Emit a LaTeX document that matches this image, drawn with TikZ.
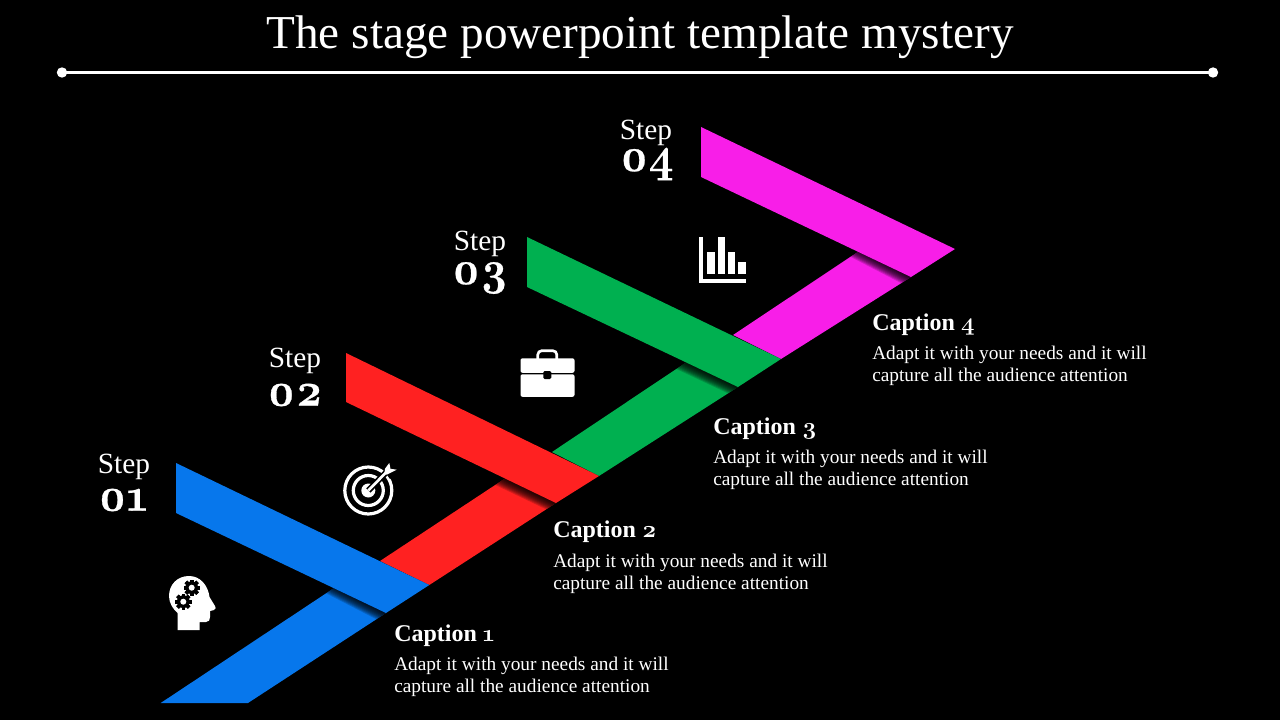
\documentclass[tikz,border=0pt]{standalone}
\usepackage{fontspec}
\setmainfont{Liberation Serif}
\newfontfamily\osf[Numbers=OldStyle]{Latin Modern Roman}
\newfontfamily\osfbig[Numbers=OldStyle,BoldFeatures={FakeBold=0.6}]{Latin Modern Roman}
\usetikzlibrary{calc}
\definecolor{cblue}{HTML}{0777EC}
\definecolor{cred}{HTML}{FF2121}
\definecolor{cgreen}{HTML}{00B050}
\definecolor{cmag}{HTML}{F81EE8}
\newcommand{\bignum}[1]{\scalebox{1}[1.08]{#1}}
\tikzset{
  titletext/.style={text=white,inner sep=0pt,anchor=base,font=\fontsize{35.4}{40}\selectfont},
  steptext/.style={text=white,inner sep=0pt,font=\fontsize{22}{24}\selectfont},
  numtext/.style={text=white,inner sep=0pt,font=\osfbig\bfseries\fontsize{33}{36}\selectfont},
  captext/.style={text=white,inner sep=0pt,anchor=base west,font=\bfseries\fontsize{18}{20}\selectfont},
  bodytext/.style={text=white,inner sep=0pt,anchor=base west,font=\fontsize{14.5}{16.5}\selectfont,align=left},
  icon/.style={fill=white,draw=none},
  hole/.style={fill=black,draw=none},
  rulebar/.style={draw=white,line width=2.4pt},
  ruledot/.style={circle,fill=white,minimum size=7.8pt,inner sep=0pt},
}
% fold: #1 colour, #2..#5 leg corners (top-left, top-right, bottom-right, bottom-left)
\newcommand{\foldleg}[5]{%
  \fill[#1] #2 -- #3 -- #4 -- #5 -- cycle;
  \begin{scope}
    \clip #2 -- #3 -- #4 -- #5 -- cycle;
    \foreach \k in {0,1,...,9}{
      \fill[black,opacity=0.17] ($#2!-1!#3$) -- ($#3!-1!#2$) -- ($($#3!-1!#2$)+(-0.43*\k-0.43,0.903*\k+0.903)$) -- ($($#2!-1!#3$)+(-0.43*\k-0.43,0.903*\k+0.903)$) -- cycle;
    }
  \end{scope}
}
\newcommand{\gearicon}[2]{%
  \foreach \a in {0,45,...,315}{
    \fill[black,rotate around={\a:(#1,#2)}] (#1-1.8,#2-8.2) rectangle (#1+1.8,#2+8.2);
  }
  \fill[black] (#1,#2) circle (6.4);
  \fill[white] (#1,#2) circle (3);
}
\begin{document}
\begin{tikzpicture}[x=0.75pt,y=-0.75pt]
\useasboundingbox (0,0) rectangle (1280,720);
\fill[black] (0,0) rectangle (1280,720);

\node[titletext] (title) at (640,49) {The stage powerpoint template mystery};
\coordinate (ruleL) at (62,72.5);
\coordinate (ruleR) at (1213,72.5);
\draw[rulebar] (ruleL) -- (ruleR);
\node[ruledot] at (ruleL) {};
\node[ruledot] at (ruleR) {};

% legs
\foldleg{cmag}{(860,250.5)}{(911,277)}{(781,359)}{(733,335)}
\foldleg{cgreen}{(686,362.5)}{(738,387)}{(599,476)}{(552,452)}
\foldleg{cred}{(505,478.5)}{(556,503)}{(429.3,585)}{(380,561)}
\foldleg{cblue}{(335.6,587)}{(386,613)}{(248,703)}{(160.7,703)}

% upper bands
\fill[cmag] (701,127) -- (955,249) -- (911,277) -- (701,177) -- cycle;
\fill[cgreen] (527,237) -- (781,359) -- (738,387) -- (527,287) -- cycle;
\fill[cred] (346,353) -- (599,476) -- (556,503) -- (346,402) -- cycle;
\fill[cblue] (176,463) -- (429.3,585) -- (386,613) -- (176,513) -- cycle;

% steps
\node[steptext] (s1) at (124,467) {Step};
\node[numtext] (n1) at (123,500) {\bignum{01}};
\node[steptext] (s2) at (295,361) {Step};
\node[numtext] (n2) at (295,395) {\bignum{02}};
\node[steptext] (s3) at (480,244) {Step};
\node[numtext] (n3) at (480,278) {\bignum{03}};
\node[steptext] (s4) at (646,133) {Step};
\node[numtext] (n4) at (647,164) {\bignum{04}};

% captions
\node[captext] (c1) at (394,641) {Caption {\osf 1}};
\node[bodytext] (b1) at (394,692) {Adapt it with your needs and it will\\capture all the audience attention};
\node[captext] (c2) at (553,537) {Caption {\osf 2}};
\node[bodytext] (b2) at (553,589) {Adapt it with your needs and it will\\capture all the audience attention};
\node[captext] (c3) at (713,434) {Caption {\osf 3}};
\node[bodytext] (b3) at (713,485) {Adapt it with your needs and it will\\capture all the audience attention};
\node[captext] (c4) at (872,330) {Caption {\osf 4}};
\node[bodytext] (b4) at (872,381) {Adapt it with your needs and it will\\capture all the audience attention};

% head
\fill[icon] (177.5,630) -- (199.5,630) -- (199.5,622) -- (206,622) .. controls (209,622) and (210,620) .. (210,617) -- (210,611) -- (214,610) .. controls (216,609) and (216,607.5) .. (215,606) -- (209.5,597) .. controls (208,585) and (200,576) .. (189,576) .. controls (177,576) and (169,585) .. (169,596) .. controls (169,603) and (173,609) .. (177.5,613) -- cycle;
\gearicon{191.7}{587.7}
\gearicon{183.3}{601.7}

% target
\draw[white,line width=2.4pt] (368.3,490.5) circle (23.5);
\draw[white,line width=2.4pt] (368.3,490.5) circle (15);
\fill[white] (368.3,490.5) circle (7);
\draw[black,line width=4.5pt] (368.3,490.5) -- (392,466.5);
\fill[black] (382,468) -- (389,458) -- (402,470) -- (390,479) -- cycle;
\draw[white,line width=2pt] (368.3,490.5) -- (386,472.5);
\fill[white] (385,468.7) -- (389.3,463) -- (390.5,468.8) -- (396.7,469.7) -- (386.7,474.7) -- (384.5,473) -- cycle;

% briefcase
\fill[icon,rounded corners=1.5] (520.5,358.3) rectangle (574.5,372.8);
\fill[icon,rounded corners=1.5] (520.5,374.3) rectangle (574.5,396.8);
\draw[white,line width=2pt,rounded corners=3] (537.8,359) -- (537.8,350.7) -- (556.8,350.7) -- (556.8,359);
\fill[hole,rounded corners=1] (543.3,371) rectangle (551.3,379);

% chart
\fill[icon] (699.3,236.7) rectangle (702.7,282.7);
\fill[icon] (699.3,279.4) rectangle (745.7,282.7);
\fill[icon] (707.3,251.7) rectangle (715,274.3);
\fill[icon] (717.5,237.3) rectangle (725.3,274.3);
\fill[icon] (727.7,251.7) rectangle (735.3,274.3);
\fill[icon] (737.7,262.3) rectangle (745.7,274.3);
\end{tikzpicture}
\end{document}
